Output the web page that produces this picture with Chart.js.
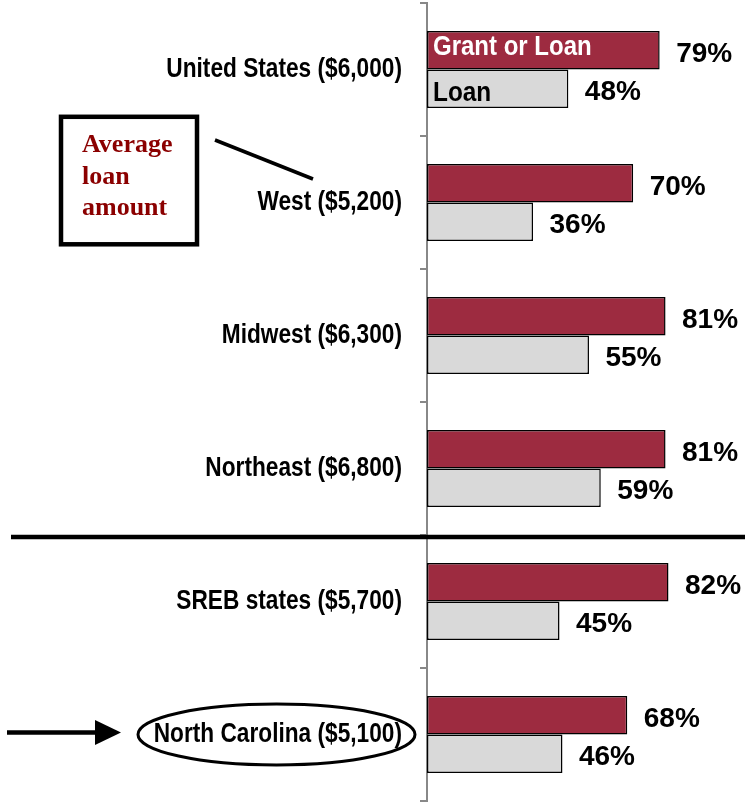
<!DOCTYPE html>
<html>
<head>
<meta charset="utf-8">
<script src="https://cdn.jsdelivr.net/npm/chart.js@4"></script>
<style>
html,body{margin:0;padding:0;background:#fff;}
canvas{display:block;}
</style>
</head>
<body>
<canvas id="c" width="745" height="802"></canvas>
<script>
const categories = ['United States ($6,000)', 'West ($5,200)', 'Midwest ($6,300)', 'Northeast ($6,800)', 'SREB states ($5,700)', 'North Carolina ($5,100)'];
const grantOrLoan = [79, 70, 81, 81, 82, 68];
const loan = [48, 36, 55, 59, 45, 46];
const seriesNames = ['Grant or Loan', 'Loan'];
const annotationLines = ['Average', 'loan', 'amount'];

const SANS = "'Liberation Sans', Arial, sans-serif";
const LABEL_RIGHT = 402;      // right edge of category labels
const CAT_SQUEEZE = 0.81;     // narrow-font look for category labels

// draw text horizontally condensed around its left anchor
function squeezedText(ctx, text, x, y, f) {
  ctx.save();
  ctx.translate(x, y);
  ctx.scale(f, 1);
  ctx.fillText(text, 0, 0);
  ctx.restore();
}

const condenseAxis = {
  id: 'condenseAxis',
  beforeDraw(chart) {
    const s = chart.scales.y;
    if (s && !s._condensed) {
      const orig = Object.getPrototypeOf(s).drawLabels;
      s.drawLabels = function (area) {
        const ctx = this.ctx;
        ctx.save();
        ctx.translate(LABEL_RIGHT, 0);
        ctx.scale(CAT_SQUEEZE, 1);
        ctx.translate(-LABEL_RIGHT, 0);
        orig.call(this, area);
        ctx.restore();
      };
      s._condensed = true;
    }
  }
};

const overlay = {
  id: 'overlay',
  afterDatasetsDraw(chart) {
    const ctx = chart.ctx;
    ctx.save();
    // value labels
    ctx.font = "bold 28px " + SANS;
    ctx.fillStyle = '#000';
    ctx.textAlign = 'left';
    ctx.textBaseline = 'alphabetic';
    chart.data.datasets.forEach((ds, di) => {
      const meta = chart.getDatasetMeta(di);
      meta.data.forEach((bar, i) => {
        ctx.fillText(ds.data[i] + '%', bar.x + 16.5, bar.y + 11.5);
      });
    });
    // series names inside first bars
    const b0 = chart.getDatasetMeta(0).data[0];
    const b1 = chart.getDatasetMeta(1).data[0];
    const left = chart.chartArea.left;
    ctx.font = "bold 28px " + SANS;
    ctx.fillStyle = '#fff';
    squeezedText(ctx, chart.data.datasets[0].label, left + 6, b0.y + 4.5, 0.857);
    ctx.fillStyle = '#000';
    squeezedText(ctx, chart.data.datasets[1].label, left + 6, b1.y + 12.5, 0.87);
    ctx.restore();
  },
  afterDraw(chart) {
    const ctx = chart.ctx;
    ctx.save();
    // annotation box
    ctx.strokeStyle = '#000';
    ctx.lineWidth = 4.5;
    ctx.strokeRect(61, 116.8, 136, 127.5);
    ctx.font = "bold 26px 'Liberation Serif', 'Times New Roman', serif";
    ctx.fillStyle = '#8b0000';
    ctx.textAlign = 'left';
    ctx.textBaseline = 'alphabetic';
    ctx.fillText(annotationLines[0], 82, 152);
    ctx.fillText(annotationLines[1], 82, 183.5);
    ctx.fillText(annotationLines[2], 82, 215);
    // leader line
    ctx.lineWidth = 3.5;
    ctx.beginPath();
    ctx.moveTo(215, 140);
    ctx.lineTo(313, 179);
    ctx.stroke();
    // separator
    ctx.lineWidth = 4.5;
    ctx.beginPath();
    ctx.moveTo(11, 537);
    ctx.lineTo(745, 537);
    ctx.stroke();
    // arrow
    ctx.lineWidth = 4.5;
    ctx.beginPath();
    ctx.moveTo(7, 732.5);
    ctx.lineTo(97, 732.5);
    ctx.stroke();
    ctx.fillStyle = '#000';
    ctx.beginPath();
    ctx.moveTo(95, 720);
    ctx.lineTo(121, 732.5);
    ctx.lineTo(95, 745);
    ctx.closePath();
    ctx.fill();
    // ellipse
    ctx.lineWidth = 3;
    ctx.beginPath();
    ctx.ellipse(276.5, 734.5, 138.5, 30.5, 0, 0, Math.PI * 2);
    ctx.stroke();
    ctx.restore();
  }
};

new Chart(document.getElementById('c'), {
  type: 'bar',
  data: {
    labels: categories,
    datasets: [
      {label: seriesNames[0], data: grantOrLoan, backgroundColor: '#9d2b40', borderColor: '#000', borderWidth: 1.5, borderSkipped: false},
      {label: seriesNames[1], data: loan, backgroundColor: '#d9d9d9', borderColor: '#000', borderWidth: 1.5, borderSkipped: false}
    ]
  },
  options: {
    indexAxis: 'y',
    responsive: false,
    animation: false,
    events: [],
    layout: {padding: {left: 0, right: 23.5, top: 3, bottom: 1}},
    datasets: {bar: {categoryPercentage: 0.58, barPercentage: 1}},
    plugins: {legend: {display: false}, tooltip: {enabled: false}},
    scales: {
      x: {display: false, min: 0, max: 100},
      y: {
        afterFit(s) { s.width = 427; s.paddingTop = 0; s.paddingBottom = 0; },
        grid: {offset: true, drawOnChartArea: false, drawTicks: true, tickLength: 7, color: '#888', lineWidth: 2},
        border: {display: true, color: '#888', width: 2},
        ticks: {color: '#000', font: {family: SANS, size: 28, weight: 'bold'}, padding: 18}
      }
    }
  },
  plugins: [condenseAxis, overlay]
});
</script>
</body>
</html>
